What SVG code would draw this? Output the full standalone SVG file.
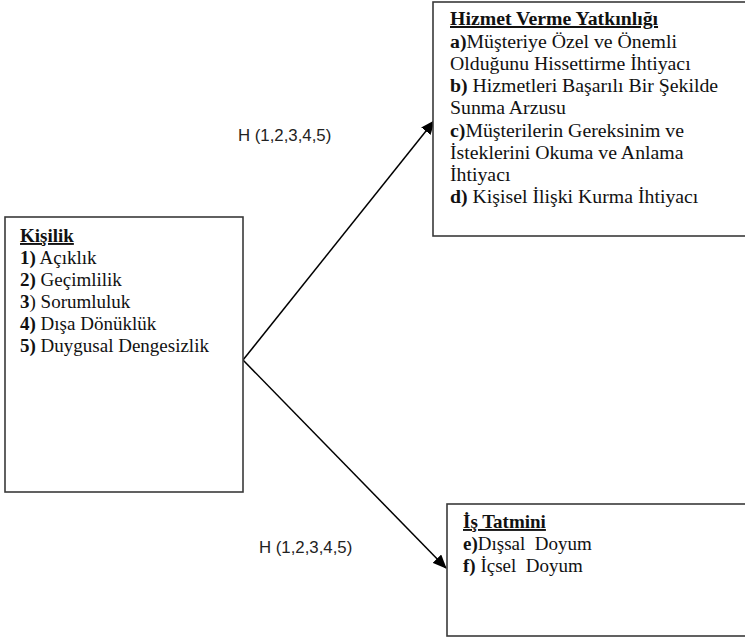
<svg xmlns="http://www.w3.org/2000/svg" width="745" height="639" viewBox="0 0 745 639">
<defs>
<marker id="ah" markerWidth="14" markerHeight="12" refX="13" refY="6" orient="auto" markerUnits="userSpaceOnUse">
<path d="M0,0 L14,6 L0,12 z" fill="#000"/>
</marker>
<style>
.box{fill:#fff;stroke:#3a3a3a;stroke-width:1.6}
.t{font-family:'Liberation Serif','DejaVu Serif',serif;font-size:19px;fill:#111;white-space:pre}
.h{font-size:19.8px}
.b{font-weight:bold}
.u{text-decoration:underline}
.lbl{font-family:'Liberation Sans',Arial,sans-serif;font-size:16.8px;fill:#222}
.c{stroke:#000;stroke-width:1.5;fill:none}
</style>
</defs>
<rect width="745" height="639" fill="#fff"/>
<g id="connectors">
<line class="c" x1="243" y1="360" x2="434" y2="121" marker-end="url(#ah)"/>
<line class="c" x1="243" y1="360" x2="446" y2="568" marker-end="url(#ah)"/>
<text class="lbl" x="238" y="141">H (1,2,3,4,5)</text>
<text class="lbl" x="259" y="553">H (1,2,3,4,5)</text>
</g>
<g id="kisilik">
<rect class="box" x="5" y="217" width="238" height="275"/>
<text class="t" x="20" y="242"><tspan class="b u">Kişilik</tspan></text>
<text class="t" x="20" y="264"><tspan class="b">1)</tspan> Açıklık</text>
<text class="t" x="20" y="286"><tspan class="b">2)</tspan> Geçimlilik</text>
<text class="t" x="20" y="308"><tspan class="b">3</tspan>) Sorumluluk</text>
<text class="t" x="20" y="330"><tspan class="b">4)</tspan> Dışa Dönüklük</text>
<text class="t" x="20" y="352"><tspan class="b">5)</tspan> Duygusal Dengesizlik</text>
</g>
<g id="hizmet">
<rect class="box" x="433" y="2" width="320" height="234"/>
<text class="t h" x="450" y="25"><tspan class="b u">Hizmet Verme Yatkınlığı</tspan></text>
<text class="t h" x="450" y="48"><tspan class="b">a)</tspan>Müşteriye Özel ve Önemli</text>
<text class="t h" x="450" y="70">Olduğunu Hissettirme İhtiyacı</text>
<text class="t h" x="450" y="92"><tspan class="b">b)</tspan> Hizmetleri Başarılı Bir Şekilde</text>
<text class="t h" x="450" y="114">Sunma Arzusu</text>
<text class="t h" x="450" y="137"><tspan class="b">c)</tspan>Müşterilerin Gereksinim ve</text>
<text class="t h" x="450" y="159">İsteklerini Okuma ve Anlama</text>
<text class="t h" x="450" y="181">İhtiyacı</text>
<text class="t h" x="450" y="203"><tspan class="b">d)</tspan> Kişisel İlişki Kurma İhtiyacı</text>
</g>
<g id="tatmin">
<rect class="box" x="447" y="504" width="306" height="132"/>
<text class="t" x="463" y="528"><tspan class="b u">İş Tatmini</tspan></text>
<text class="t" x="463" y="550"><tspan class="b">e)</tspan>Dışsal  Doyum</text>
<text class="t" x="463" y="572"><tspan class="b">f)</tspan> İçsel  Doyum</text>
</g>
</svg>
